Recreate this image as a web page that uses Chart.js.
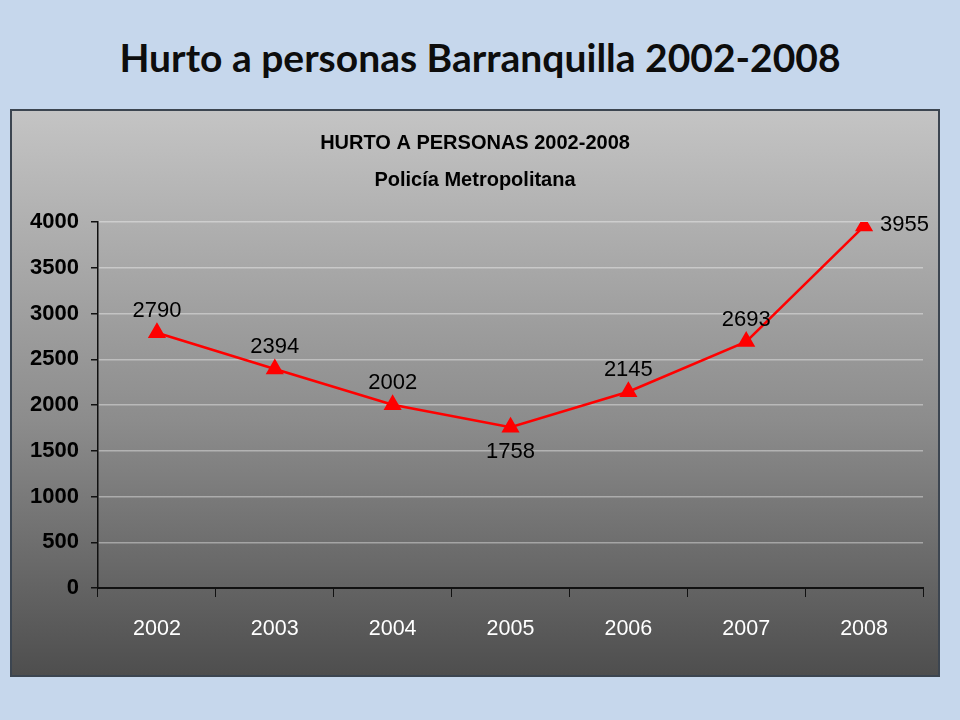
<!DOCTYPE html>
<html>
<head>
<meta charset="utf-8">
<script src="https://cdn.jsdelivr.net/npm/chart.js@4.4.1/dist/chart.umd.min.js"></script>
<style>
  body { margin: 0; background: #c6d7ec; width: 960px; height: 720px; overflow: hidden; }
  .main-title {
    position: absolute; left: 0; top: 34px; width: 960px; text-align: center;
    font-family: Lato, "Open Sans", sans-serif; font-weight: bold; font-size: 39px; color: #0d0d0d;
  }
  .chart-container {
    position: absolute; left: 10px; top: 109px; width: 926px; height: 564px;
    border: 2px solid #3c4550;
    background: linear-gradient(to bottom, #c4c4c4 0%, #8c8c8c 55%, #4e4e4e 100%);
  }
</style>
</head>
<body>
<div class="main-title">Hurto a personas Barranquilla 2002-2008</div>
<div class="chart-container"><canvas id="chart-1" width="926" height="564"></canvas></div>
<script>
const years = ['2002', '2003', '2004', '2005', '2006', '2007', '2008'];
const hurtos = [2790, 2394, 2002, 1758, 2145, 2693, 3955];
const yTicks = [0, 500, 1000, 1500, 2000, 2500, 3000, 3500, 4000];
const chartTitle = ['HURTO A PERSONAS 2002-2008', 'Policía Metropolitana'];

// where each value label sits relative to its point
const labelSide = ['top', 'top', 'top', 'bottom', 'top', 'top', 'right'];

const arial = '"Liberation Sans", Arial, sans-serif';

const valueLabels = {
  id: 'valueLabels',
  afterDatasetsDraw(chart) {
    const ctx = chart.ctx;
    const points = chart.getDatasetMeta(0).data;
    ctx.save();
    ctx.font = '22px ' + arial;
    ctx.fillStyle = '#000';
    ctx.textBaseline = 'middle';
    points.forEach((pt, i) => {
      const side = labelSide[i];
      let x = pt.x;
      let y = pt.y;
      ctx.textAlign = 'center';
      if (side === 'top') y -= 22;
      if (side === 'bottom') y += 25;
      if (side === 'right') {
        ctx.textAlign = 'left';
        x += 16;
        y -= 1;
      }
      ctx.fillText(String(hurtos[i]), x, y);
    });
    ctx.restore();
  },
};

const lineChart = document.getElementById('chart-1');

new Chart(lineChart, {
  type: 'line',
  data: {
    labels: years,
    datasets: [
      {
        label: 'Hurto a personas',
        data: hurtos,
        borderColor: '#ff0000',
        backgroundColor: '#ff0000',
        borderWidth: 2.5,
        pointStyle: 'triangle',
        pointRadius: 8,
        pointHoverRadius: 8,
        tension: 0,
      },
    ],
  },
  options: {
    responsive: false,
    animation: false,
    layout: { padding: 0 },
    plugins: {
      legend: { display: false },
      tooltip: { enabled: false },
      title: {
        display: true,
        text: chartTitle,
        color: '#000',
        font: { family: arial, size: 20, weight: 'bold', lineHeight: 1.85 },
        padding: { top: 14, bottom: 23 },
      },
    },
    scales: {
      x: {
        offset: true,
        grid: {
          offset: true,
          drawOnChartArea: false,
          drawTicks: true,
          tickLength: 9,
          tickColor: '#111',
        },
        border: { color: '#111', width: 2 },
        ticks: { color: '#fff', font: { family: arial, size: 21.5 }, padding: 19 },
        afterFit: (scale) => { scale.height = 87; },
      },
      y: {
        min: 0,
        max: 4000,
        afterBuildTicks: (scale) => { scale.ticks = yTicks.map((v) => ({ value: v })); },
        grid: {
          color: 'rgba(255, 255, 255, 0.38)',
          lineWidth: 1.5,
          tickLength: 7,
          tickColor: '#111',
        },
        border: { color: '#111', width: 1.5 },
        ticks: {
          color: '#000',
          font: { family: arial, size: 22, weight: 'bold' },
          padding: 12,
          callback: (value) => String(value),
        },
        afterFit: (scale) => { scale.width = 86; },
      },
      // empty right-hand margin so the title stays centred on the panel
      spacer: {
        position: 'right',
        grid: { display: false },
        border: { display: false },
        ticks: { display: false },
        afterFit: (scale) => { scale.width = 15; },
      },
    },
  },
  plugins: [valueLabels],
});
</script>
</body>
</html>
